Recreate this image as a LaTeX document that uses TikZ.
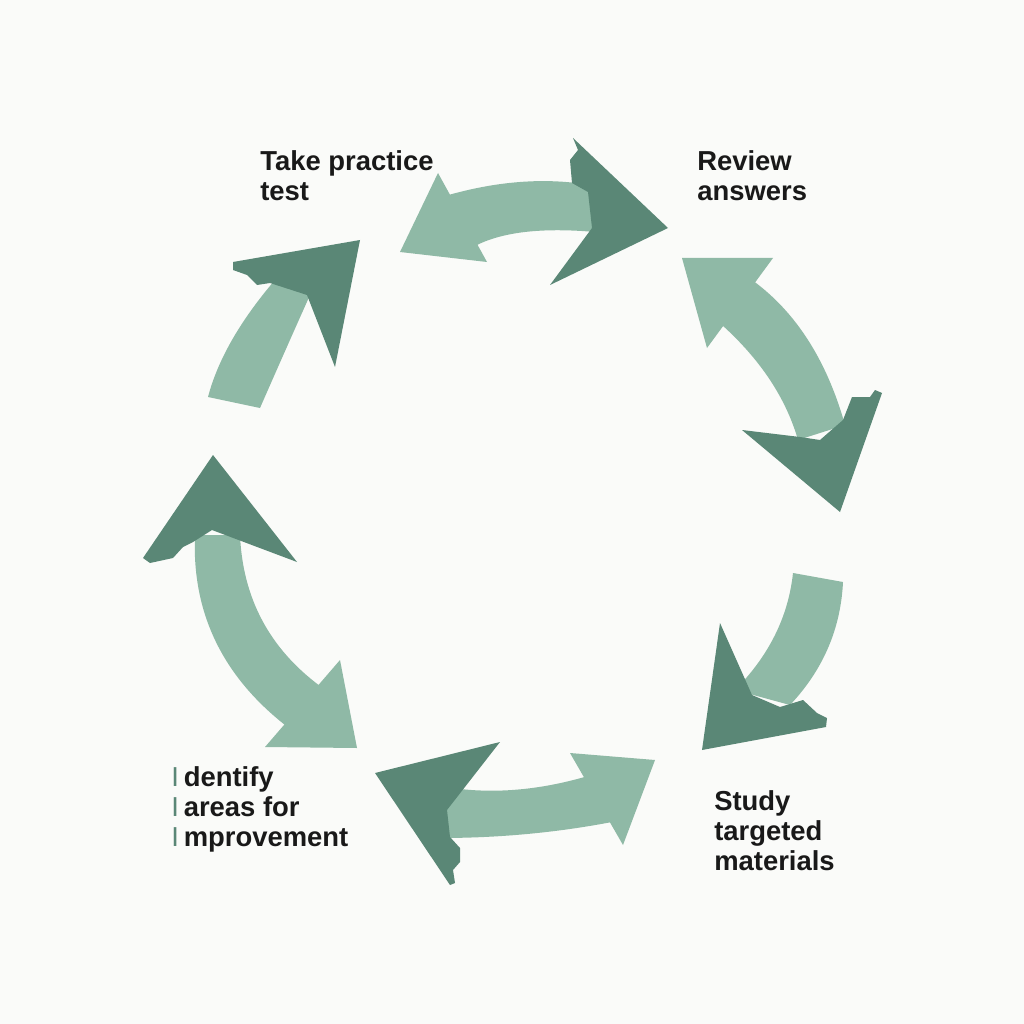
\documentclass[tikz,border=0pt]{standalone}
\usepackage{fontspec}
\newfontfamily\labfont{Liberation Sans}
\definecolor{lightg}{HTML}{8FB9A6}
\definecolor{darkg}{HTML}{5A8776}
\definecolor{bg}{HTML}{FAFBF9}
\newcommand{\greenbar}{{\mdseries\textcolor{darkg}{I}}\kern3.5pt}
\begin{document}
\begin{tikzpicture}[x=0.025cm,y=-0.025cm,
  lightpart/.style={fill=lightg},
  darkpart/.style={fill=darkg},
  lab/.style={font=\labfont\bfseries\fontsize{19.5}{21.5}\selectfont, align=left, anchor=north west, inner sep=0pt, text=black!90}]
\fill[bg] (0,0) rectangle (1024,1024);
\useasboundingbox (0,0) rectangle (1024,1024);
% piece 1 (top)
\fill[lightpart] (445,196) .. controls (496.7,181) and (545,177.3) .. (590,185) -- (595,232) .. controls (541.7,227.3) and (501.7,232) .. (475,246) -- cycle;
\fill[lightpart] (438,173) -- (487,262) -- (400,252) -- cycle;
\fill[darkpart] (573,138) -- (578,150) -- (570,160) -- (572,183) -- (588,192) -- (592,228) -- (550,285) -- (668,228) -- cycle;
% piece 2 (right upper)
\fill[lightpart] (752,280) .. controls (795.7,311.7) and (826.7,360) .. (845,425) -- (798,440) .. controls (786,398.3) and (760.7,360) .. (722,325) -- cycle;
\fill[lightpart] (682,258) -- (773,258) -- (707,348) -- cycle;
\fill[darkpart] (742,430) -- (800,437) -- (820,440) -- (843,420) -- (852,397) -- (870,397) -- (875,390) -- (882,393) -- (840,512) -- cycle;
% piece 3 (right lower)
\fill[lightpart] (793,573) .. controls (788.3,616.7) and (769,655.7) .. (735,690) -- (790,705) .. controls (823,670) and (840.7,629) .. (843,582) -- cycle;
\fill[darkpart] (720,623) -- (752,695) -- (780,707) -- (790,704) -- (803,700) -- (817,713) -- (827,718) -- (826,727) -- (702,750) -- cycle;
% piece 4 (bottom)
\fill[lightpart] (588,776) .. controls (536,791.3) and (486.7,794.7) .. (440,786) -- (440,838) .. controls (498.7,838) and (556,832.7) .. (612,822) -- cycle;
\fill[lightpart] (570,753) -- (655,760) -- (623,845) -- cycle;
\fill[darkpart] (375,773) -- (500,742) -- (447,810) -- (450,837) -- (460,848) -- (460,862) -- (453,870) -- (455,883) -- (450,885) -- cycle;
% piece 5 (left lower)
\fill[lightpart] (195,535) .. controls (191.7,611.7) and (221.7,675) .. (285,725) -- (320,686) .. controls (269.3,648.3) and (242.7,598) .. (240,535) -- cycle;
\fill[lightpart] (340,660) -- (357,748) -- (265,747) -- cycle;
\fill[darkpart] (213,455) -- (297,562) -- (212,530) -- (193,542) -- (183,547) -- (173,558) -- (150,563) -- (143,558) -- cycle;
% piece 6 (left upper)
\fill[lightpart] (208,397) .. controls (217.7,360) and (240,321) .. (275,280) -- (310,295) .. controls (289.3,341.3) and (272.7,379) .. (260,408) -- cycle;
\fill[darkpart] (360,240) -- (335,367) -- (307,295) -- (270,283) -- (257,285) -- (247,275) -- (233,270) -- (233,262) -- cycle;
% labels
\node[lab] (take) at (260,150) {Take practice\\test};
\node[lab] (review) at (697,150) {Review\\answers};
\node[lab] (study) at (714,790) {Study\\targeted\\materials};
\node[lab] (ident) at (171,766) {\greenbar dentify\\\greenbar areas for\\\greenbar mprovement};
\end{tikzpicture}
\end{document}
